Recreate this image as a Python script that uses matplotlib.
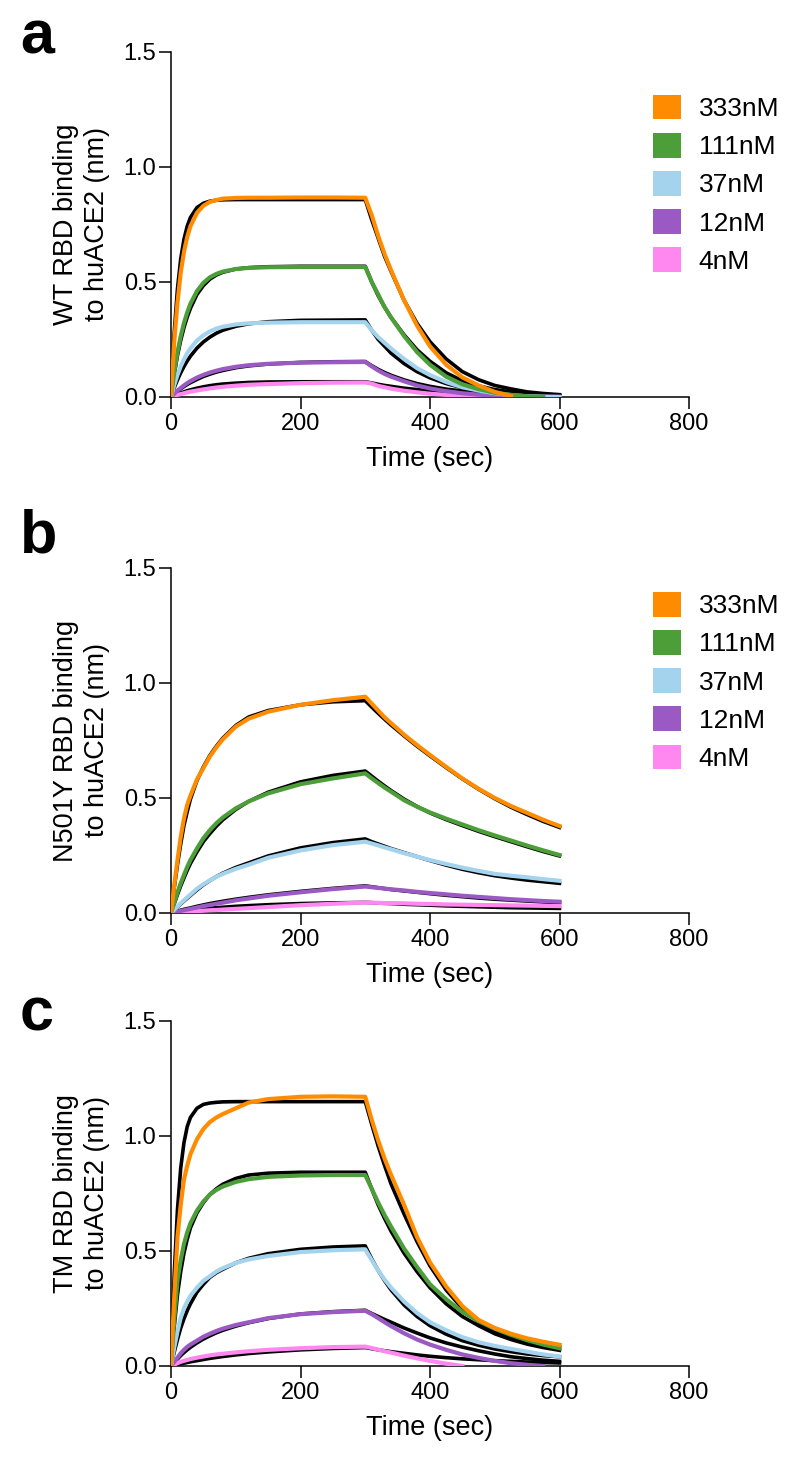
import numpy as np
import matplotlib.pyplot as plt
from matplotlib.patches import Patch
from matplotlib.ticker import FormatStrFormatter

plt.rcParams['font.family'] = ['Liberation Sans', 'DejaVu Sans']

nan = float('nan')

# time grid (sec): association 0-300, dissociation 300-600
t = [0, 5, 10, 15, 20, 25, 30, 40, 50, 60, 70, 80, 100, 120, 150, 200, 250, 300,
     310, 320, 330, 340, 360, 380, 400, 425, 450, 475, 500, 525, 550, 575, 600]

conc = ['333nM', '111nM', '37nM', '12nM', '4nM']
colors = ['#FF8C00', '#4C9F38', '#A4D3EE', '#9B59C4', '#FF88F0']

# --- a: WT RBD ---
wt_333 = [0, 0.24, 0.41, 0.54, 0.63, 0.695, 0.742, 0.80, 0.831, 0.848, 0.856, 0.862, 0.865, 0.866, 0.866, 0.867, 0.867, 0.866,
          0.79, 0.70, 0.62, 0.55, 0.42, 0.31, 0.22, 0.14, 0.085, 0.05, 0.022, 0.004, nan, nan, nan]
wt_333_fit = [0, 0.28, 0.47, 0.60, 0.685, 0.742, 0.78, 0.823, 0.842, 0.851, 0.855, 0.857, 0.858, 0.858, 0.858, 0.858, 0.858, 0.858,
              0.77, 0.69, 0.61, 0.545, 0.42, 0.32, 0.24, 0.165, 0.11, 0.075, 0.05, 0.035, 0.022, 0.015, 0.01]
wt_111 = [0, 0.107, 0.194, 0.264, 0.321, 0.367, 0.405, 0.46, 0.496, 0.52, 0.535, 0.545, 0.556, 0.561, 0.564, 0.565, 0.565, 0.565,
          0.50, 0.445, 0.39, 0.345, 0.265, 0.195, 0.14, 0.088, 0.055, 0.034, 0.018, 0.009, 0.003, 0.0, nan]
wt_111_fit = [0, 0.099, 0.18, 0.246, 0.301, 0.347, 0.385, 0.445, 0.484, 0.512, 0.53, 0.542, 0.556, 0.562, 0.566, 0.568, 0.568, 0.568,
              0.50, 0.44, 0.39, 0.345, 0.27, 0.205, 0.155, 0.105, 0.07, 0.048, 0.032, 0.022, 0.015, 0.011, 0.008]
wt_37 = [0, 0.052, 0.096, 0.133, 0.163, 0.19, 0.211, 0.245, 0.268, 0.285, 0.297, 0.305, 0.315, 0.32, 0.323, 0.325, 0.325, 0.325,
         0.29, 0.26, 0.235, 0.21, 0.165, 0.125, 0.095, 0.065, 0.042, 0.028, 0.016, 0.008, 0.003, 0.001, 0.0]
wt_37_fit = [0, 0.04, 0.074, 0.105, 0.132, 0.156, 0.177, 0.212, 0.239, 0.26, 0.277, 0.29, 0.307, 0.318, 0.327, 0.333, 0.334, 0.335,
             0.29, 0.25, 0.22, 0.19, 0.145, 0.11, 0.083, 0.058, 0.04, 0.028, 0.02, 0.015, 0.01, 0.007, 0.005]
wt_12 = [0, 0.014, 0.028, 0.039, 0.05, 0.06, 0.069, 0.084, 0.096, 0.106, 0.114, 0.121, 0.131, 0.138, 0.144, 0.149, 0.151, 0.152,
         0.133, 0.115, 0.1, 0.088, 0.068, 0.05, 0.037, 0.025, 0.016, 0.01, 0.006, 0.004, 0.002, 0.001, 0.0]
wt_12_fit = [0, 0.013, 0.024, 0.035, 0.045, 0.054, 0.062, 0.076, 0.089, 0.099, 0.108, 0.115, 0.127, 0.135, 0.143, 0.15, 0.153, 0.154,
             0.136, 0.12, 0.106, 0.094, 0.074, 0.058, 0.046, 0.034, 0.026, 0.02, 0.015, 0.012, 0.009, 0.007, 0.005]
wt_4 = [0, 0.0045, 0.009, 0.0126, 0.016, 0.02, 0.023, 0.028, 0.033, 0.037, 0.041, 0.044, 0.049, 0.053, 0.056, 0.06, 0.062, 0.063,
        0.058, 0.048, 0.042, 0.036, 0.027, 0.02, 0.014, 0.009, 0.005, 0.003, 0.002, 0.001, 0.0, 0.0, 0.0]
wt_4_fit = [0, 0.006, 0.012, 0.017, 0.022, 0.027, 0.031, 0.038, 0.044, 0.049, 0.053, 0.056, 0.06, 0.063, 0.065, 0.066, 0.066, 0.066,
            0.061, 0.055, 0.05, 0.046, 0.038, 0.032, 0.026, 0.021, 0.017, 0.013, 0.011, 0.009, 0.007, 0.006, 0.005]

# --- b: N501Y RBD ---
n5_333 = [0, 0.12, 0.23, 0.33, 0.41, 0.47, 0.51, 0.58, 0.63, 0.68, 0.72, 0.755, 0.81, 0.845, 0.875, 0.905, 0.925, 0.94,
          0.91, 0.88, 0.85, 0.825, 0.775, 0.73, 0.687, 0.635, 0.585, 0.54, 0.5, 0.465, 0.435, 0.405, 0.378]
n5_333_fit = [0, 0.11, 0.21, 0.3, 0.38, 0.44, 0.495, 0.575, 0.635, 0.685, 0.725, 0.76, 0.815, 0.852, 0.88, 0.905, 0.918, 0.923,
              0.895, 0.868, 0.842, 0.817, 0.77, 0.725, 0.683, 0.632, 0.583, 0.538, 0.497, 0.46, 0.428, 0.398, 0.372]
n5_111 = [0, 0.045, 0.09, 0.13, 0.165, 0.2, 0.23, 0.28, 0.325, 0.36, 0.39, 0.415, 0.455, 0.485, 0.52, 0.56, 0.585, 0.607,
          0.585, 0.565, 0.545, 0.527, 0.49, 0.462, 0.437, 0.41, 0.385, 0.36, 0.337, 0.315, 0.293, 0.272, 0.252]
n5_111_fit = [0, 0.04, 0.08, 0.118, 0.152, 0.185, 0.215, 0.265, 0.31, 0.345, 0.377, 0.405, 0.45, 0.485, 0.525, 0.57, 0.598, 0.617,
              0.595, 0.573, 0.552, 0.532, 0.495, 0.463, 0.435, 0.406, 0.38, 0.355, 0.332, 0.31, 0.288, 0.267, 0.248]
n5_37 = [0, 0.014, 0.028, 0.042, 0.055, 0.068, 0.08, 0.105, 0.125, 0.142, 0.157, 0.17, 0.192, 0.21, 0.24, 0.272, 0.295, 0.31,
         0.302, 0.294, 0.285, 0.277, 0.26, 0.245, 0.23, 0.213, 0.197, 0.183, 0.17, 0.162, 0.155, 0.147, 0.14]
n5_37_fit = [0, 0.013, 0.026, 0.039, 0.052, 0.064, 0.076, 0.1, 0.122, 0.141, 0.158, 0.173, 0.198, 0.218, 0.248, 0.283, 0.306, 0.322,
             0.31, 0.3, 0.29, 0.28, 0.262, 0.245, 0.228, 0.208, 0.19, 0.175, 0.162, 0.152, 0.143, 0.136, 0.129]
n5_12 = [0, 0.003, 0.006, 0.009, 0.012, 0.015, 0.018, 0.024, 0.03, 0.035, 0.04, 0.045, 0.055, 0.063, 0.075, 0.09, 0.104, 0.115,
         0.112, 0.109, 0.106, 0.103, 0.098, 0.092, 0.087, 0.081, 0.075, 0.07, 0.065, 0.06, 0.056, 0.052, 0.049]
n5_12_fit = [0, 0.004, 0.008, 0.012, 0.016, 0.019, 0.022, 0.029, 0.035, 0.041, 0.046, 0.051, 0.06, 0.068, 0.079, 0.094, 0.107, 0.118,
             0.114, 0.11, 0.106, 0.102, 0.096, 0.09, 0.084, 0.077, 0.071, 0.065, 0.06, 0.056, 0.052, 0.048, 0.045]
n5_4 = [0, 0.001, 0.002, 0.003, 0.004, 0.005, 0.006, 0.008, 0.01, 0.012, 0.013, 0.015, 0.018, 0.021, 0.026, 0.034, 0.04, 0.046,
        0.045, 0.044, 0.043, 0.043, 0.042, 0.04, 0.039, 0.037, 0.036, 0.035, 0.034, 0.033, 0.032, 0.031, 0.03]
n5_4_fit = [0, 0.002, 0.004, 0.006, 0.008, 0.01, 0.012, 0.015, 0.018, 0.021, 0.023, 0.025, 0.029, 0.032, 0.036, 0.041, 0.044, 0.046,
            0.045, 0.043, 0.042, 0.041, 0.038, 0.036, 0.034, 0.031, 0.029, 0.027, 0.025, 0.023, 0.022, 0.021, 0.02]

# --- c: TM RBD ---
tm_333 = [0, 0.3, 0.56, 0.7, 0.81, 0.87, 0.92, 0.985, 1.03, 1.06, 1.08, 1.095, 1.12, 1.145, 1.16, 1.17, 1.172, 1.17,
          1.07, 0.98, 0.9, 0.83, 0.7, 0.56, 0.45, 0.345, 0.26, 0.2, 0.165, 0.14, 0.12, 0.105, 0.092]
tm_333_fit = [0, 0.4, 0.68, 0.86, 0.97, 1.04, 1.08, 1.12, 1.137, 1.143, 1.146, 1.148, 1.149, 1.149, 1.149, 1.149, 1.149, 1.149,
              1.05, 0.955, 0.87, 0.79, 0.66, 0.54, 0.435, 0.33, 0.25, 0.19, 0.15, 0.125, 0.105, 0.092, 0.083]
tm_111 = [0, 0.2, 0.37, 0.46, 0.53, 0.58, 0.62, 0.675, 0.715, 0.745, 0.765, 0.78, 0.8, 0.812, 0.822, 0.828, 0.83, 0.83,
          0.77, 0.71, 0.655, 0.605, 0.51, 0.43, 0.355, 0.29, 0.235, 0.195, 0.162, 0.135, 0.112, 0.093, 0.077]
tm_111_fit = [0, 0.17, 0.31, 0.41, 0.49, 0.55, 0.6, 0.665, 0.71, 0.745, 0.77, 0.79, 0.815, 0.83, 0.838, 0.842, 0.842, 0.842,
              0.77, 0.7, 0.64, 0.585, 0.49, 0.41, 0.34, 0.27, 0.215, 0.175, 0.14, 0.115, 0.095, 0.08, 0.068]
tm_37 = [0, 0.08, 0.15, 0.21, 0.25, 0.28, 0.305, 0.34, 0.37, 0.39, 0.41, 0.425, 0.448, 0.463, 0.478, 0.495, 0.503, 0.507,
         0.46, 0.415, 0.375, 0.34, 0.28, 0.23, 0.19, 0.155, 0.125, 0.103, 0.087, 0.074, 0.062, 0.05, 0.041]
tm_37_fit = [0, 0.06, 0.115, 0.165, 0.205, 0.24, 0.27, 0.32, 0.355, 0.385, 0.405, 0.42, 0.448, 0.468, 0.488, 0.507, 0.517, 0.522,
             0.465, 0.415, 0.37, 0.33, 0.265, 0.215, 0.175, 0.138, 0.11, 0.09, 0.074, 0.062, 0.052, 0.045, 0.04]
tm_12 = [0, 0.018, 0.036, 0.055, 0.07, 0.083, 0.093, 0.11, 0.127, 0.14, 0.152, 0.162, 0.178, 0.19, 0.208, 0.225, 0.234, 0.24,
         0.225, 0.208, 0.19, 0.173, 0.142, 0.115, 0.093, 0.07, 0.05, 0.035, 0.022, 0.012, 0.005, 0.0, nan]
tm_12_fit = [0, 0.015, 0.03, 0.045, 0.058, 0.07, 0.081, 0.1, 0.117, 0.131, 0.144, 0.155, 0.173, 0.188, 0.206, 0.226, 0.236, 0.242,
             0.228, 0.215, 0.202, 0.19, 0.165, 0.143, 0.122, 0.1, 0.082, 0.066, 0.052, 0.04, 0.032, 0.025, 0.02]
tm_4 = [0, 0.006, 0.012, 0.018, 0.022, 0.026, 0.03, 0.036, 0.041, 0.046, 0.05, 0.053, 0.059, 0.064, 0.07, 0.077, 0.082, 0.084,
        0.078, 0.071, 0.064, 0.058, 0.045, 0.033, 0.022, 0.01, 0.0, nan, nan, nan, nan, nan, nan]
tm_4_fit = [0, 0.003, 0.006, 0.009, 0.012, 0.015, 0.018, 0.023, 0.028, 0.033, 0.037, 0.041, 0.048, 0.054, 0.061, 0.07, 0.076, 0.08,
            0.075, 0.07, 0.066, 0.062, 0.055, 0.048, 0.042, 0.036, 0.031, 0.027, 0.023, 0.02, 0.017, 0.015, 0.013]

panels = [
    ('a', 'WT RBD binding\nto huACE2 (nm)', [wt_333, wt_111, wt_37, wt_12, wt_4],
     [wt_333_fit, wt_111_fit, wt_37_fit, wt_12_fit, wt_4_fit], 0.7307, 0.964, (0.9305, 0.875)),
    ('b', 'N501Y RBD binding\nto huACE2 (nm)', [n5_333, n5_111, n5_37, n5_12, n5_4],
     [n5_333_fit, n5_111_fit, n5_37_fit, n5_12_fit, n5_4_fit], 0.3806, 0.6255, (0.9305, 0.930)),
    ('c', 'TM RBD binding\nto huACE2 (nm)', [tm_333, tm_111, tm_37, tm_12, tm_4],
     [tm_333_fit, tm_111_fit, tm_37_fit, tm_12_fit, tm_4_fit], 0.0733, 0.3012, None),
]

fig = plt.figure(figsize=(8, 14.74), dpi=100)

for letter, ylab, data, fits, bottom, letter_y, leg_pos in panels:
    ax = fig.add_axes([0.21375, bottom, 0.6475, 0.2341])
    # black fits underneath, coloured traces on top
    for f in fits:
        ax.plot(t, f, color='black', lw=2.6, zorder=2)
    for y, c in reversed(list(zip(data, colors))):
        ax.plot(t, y, color=c, lw=3.0, zorder=3)

    ax.set_xlim(0, 800)
    ax.set_ylim(0, 1.5)
    ax.set_xticks([0, 200, 400, 600, 800])
    ax.set_yticks([0, 0.5, 1.0, 1.5])
    ax.yaxis.set_major_formatter(FormatStrFormatter('%.1f'))
    for s in ['top', 'right']:
        ax.spines[s].set_visible(False)
    for s in ['left', 'bottom']:
        ax.spines[s].set_linewidth(1.1)
    ax.tick_params(direction='out', length=8.5, width=1.1, labelsize=17)
    ax.tick_params(axis='x', pad=3)
    ax.tick_params(axis='y', pad=2)
    ax.set_xlabel('Time (sec)', fontsize=19.5, labelpad=8)
    ax.set_ylabel(ylab, fontsize=19.5, labelpad=10, linespacing=1.25)

    if leg_pos is not None:
        handles = [Patch(facecolor=c, edgecolor='none') for c in colors]
        ax.legend(handles, conc, loc='upper left', bbox_to_anchor=leg_pos,
                  frameon=False, fontsize=19, handlelength=1.08, handleheight=1.05,
                  handletextpad=0.65, labelspacing=0.45, borderpad=0, borderaxespad=0)

    fig.text(0.025, letter_y, letter, fontsize=44, fontweight='bold', va='baseline')

fig.savefig('out.png', dpi=100)
